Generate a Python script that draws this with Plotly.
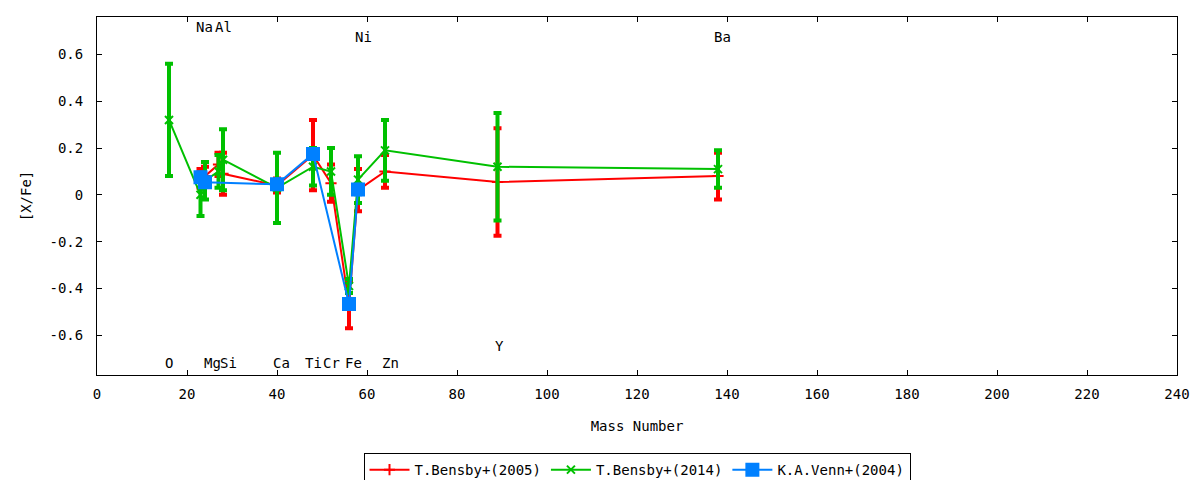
import plotly.graph_objects as go

# mass numbers and [X/Fe]
bensby05_x = [23, 24, 27, 28, 40, 48, 52, 56, 58, 64, 89, 138]
bensby05_y = [0.07, 0.08, 0.13, 0.09, 0.04, 0.17, 0.05, -0.47, 0.02, 0.10, 0.055, 0.08]
bensby05_err = [0.04, 0.04, 0.05, 0.09, 0.03, 0.15, 0.08, 0.10, 0.09, 0.07, 0.23, 0.10]

bensby14_x = [16, 23, 24, 27, 28, 40, 48, 52, 56, 58, 64, 89, 138]
bensby14_y = [0.32, 0.0, 0.06, 0.10, 0.15, 0.03, 0.12, 0.10, -0.39, 0.065, 0.19, 0.12, 0.11]
bensby14_err = [0.24, 0.09, 0.08, 0.07, 0.13, 0.15, 0.08, 0.10, 0.03, 0.10, 0.13, 0.23, 0.08]

venn04_x = [23, 24, 40, 48, 56, 58]
venn04_y = [0.075, 0.054, 0.045, 0.175, -0.467, 0.023]
venn04_err = [0.02, 0.02, 0.02, 0.02, 0.02, 0.02]

# element labels (text, x, y)
elem_names = ['O', 'Na', 'Mg', 'Al', 'Si', 'Ca', 'Ti', 'Cr', 'Fe', 'Ni', 'Zn', 'Y', 'Ba']
elem_x = [16.1, 23.9, 25.6, 28.1, 29.2, 41.0, 48.2, 52.2, 57.1, 59.2, 65.3, 89.4, 139.0]
elem_y = [-0.718, 0.718, -0.718, 0.718, -0.718, -0.718, -0.718, -0.718, -0.718, 0.675, -0.718, -0.647, 0.675]

x_ticks = [0, 20, 40, 60, 80, 100, 120, 140, 160, 180, 200, 220, 240]
y_ticks = [-0.6, -0.4, -0.2, 0, 0.2, 0.4, 0.6]
y_ticktext = ['-0.6', '-0.4', '-0.2', '0', '0.2', '0.4', '0.6']

FONT = 'DejaVu Sans Mono'

fig = go.Figure()


def add_series(x, y, err, name, color, symbol, size):
    fig.add_trace(go.Scatter(
        x=x, y=y, name=name, mode='lines+markers',
        line=dict(color=color, width=2),
        marker=dict(color=color, symbol=symbol, size=size,
                    line=dict(color=color, width=2)),
        error_y=dict(type='data', array=err, visible=True,
                     color=color, thickness=4, width=4)))


add_series(bensby05_x, bensby05_y, bensby05_err, 'T.Bensby+(2005)', '#ff0000', 'cross-thin', 8)
add_series(bensby14_x, bensby14_y, bensby14_err, 'T.Bensby+(2014)', '#00c000', 'x-thin', 8)
add_series(venn04_x, venn04_y, venn04_err, 'K.A.Venn+(2004)', '#0080ff', 'square', 12)

for name, ex, ey in zip(elem_names, elem_x, elem_y):
    fig.add_annotation(x=ex, y=ey, text=name, showarrow=False,
                       xanchor='center', yanchor='middle',
                       font=dict(family=FONT, size=14, color='black'))

axis_common = dict(showgrid=False, zeroline=False, showline=True, linecolor='black',
                   linewidth=1, mirror='ticks', ticks='inside', ticklen=5,
                   tickcolor='black', tickfont=dict(family=FONT, size=14, color='black'))

fig.update_xaxes(range=[0, 240], tickvals=x_ticks,
                 title=dict(text='Mass Number', standoff=20,
                            font=dict(family=FONT, size=14, color='black')),
                 ticklabelstandoff=6, **axis_common)
fig.update_yaxes(range=[-0.77, 0.76], tickvals=y_ticks, ticktext=y_ticktext,
                 title=dict(text='[X/Fe]', standoff=14,
                            font=dict(family=FONT, size=14, color='black')),
                 ticklabelstandoff=10, **axis_common)

# the page body adds an 8px margin, so the figure is sized to fit inside it
fig.update_layout(
    width=1192, height=472,
    margin=dict(l=89, r=23, t=9, b=105, autoexpand=False),
    plot_bgcolor='white', paper_bgcolor='white',
    font=dict(family=FONT, size=14, color='black'),
    legend=dict(orientation='h', x=0.5, xanchor='center', y=-0.218, yanchor='top',
                bordercolor='black', borderwidth=1, bgcolor='white',
                font=dict(family=FONT, size=14, color='black'),
                itemwidth=40, tracegroupgap=0),
)

fig.write_html("out.html")
